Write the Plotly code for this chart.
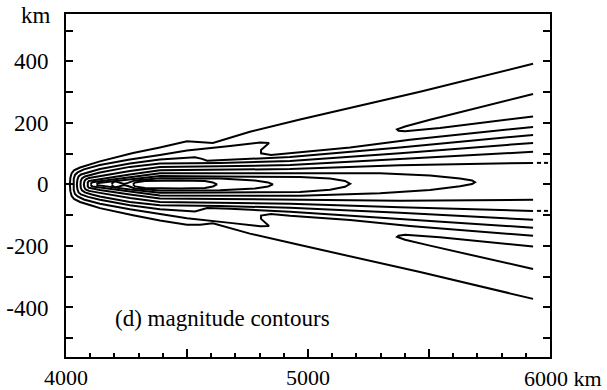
import plotly.graph_objects as go

# ---------------- data (km) ----------------
# Fan contours: upper branch (U) and lower branch (L) share the x list;
# they join at the source "nose" near x = 4000 km.
U1_x = [4016, 4018, 4023, 4033, 4058, 4112, 4140, 4277, 4388, 4500, 4554, 4607, 4760, 4967, 5463, 5930]
U1_y = [0, 21, 36, 45.5, 55, 68, 75, 102, 120, 140, 138, 135, 171, 211, 301, 392]
L1_y = [0, -22, -37, -47, -57, -70, -77, -100, -117, -131, -131, -126, -160, -197, -285, -372]

U2_x = [4031, 4032, 4037, 4048, 4074, 4140, 4264, 4388, 4500, 4678, 4802, 4839, 4806, 4806, 4847, 4926, 5174, 5421, 5930]
U2_y = [0, 18, 31, 39, 49, 63, 81, 96, 110, 125, 136, 135, 112, 101, 96, 102, 120, 145, 187]
L2_y = [0, -18, -31, -39, -49, -63, -81, -96, -110, -125, -136, -135, -112, -101, -96, -102, -116, -135, -167]

U3_x = [4045, 4047, 4052, 4062, 4091, 4140, 4264, 4388, 4533, 4562, 4583, 4678, 4926, 5380, 5930]
U3_y = [0, 15, 26, 32.5, 40.5, 50, 68, 81, 88, 83, 77, 79, 89, 120, 161]
L3_y = [0, -15, -26, -32.5, -40.5, -50, -68, -81, -88, -83, -77, -79, -89, -112, -141]

U4_x = [4060, 4061, 4066, 4078, 4107, 4140, 4264, 4388, 4636, 4926, 5380, 5930]
U4_y = [0, 11, 19.5, 26, 32.5, 39, 57, 68, 70, 76, 101, 135]
L4_y = [0, -11, -19.5, -26, -32.5, -39, -57, -68, -70, -76, -92, -115]

U5_x = [4074, 4076, 4081, 4095, 4140, 4264, 4388, 4636, 4926, 5380, 5930]
U5_y = [0, 10, 16, 21, 27.5, 44, 57, 59, 63, 83, 106]
L5_y = [0, -10, -16, -21, -27.5, -44, -57, -59, -63, -74.5, -86]

U6_x = [4089, 4090, 4095, 4112, 4140, 4264, 4388, 4636, 4926, 5380, 5930]
U6_y = [0, 6.5, 11, 14.5, 18, 32.5, 46, 47, 50, 62, 70]
L6_y = [0, -6.5, -11, -14.5, -18, -32.5, -46, -47, -50, -53, -50]

# Closed lobes along the axis
Ed_x = [4103, 4104.5, 4109.5, 4124, 4140, 4264, 4388, 4636, 4967, 5297, 5504, 5628, 5678, 5690,
        5678, 5628, 5504, 5297, 4967, 4636, 4388, 4264, 4140, 4124, 4109.5, 4104.5, 4103]
Ed_y = [0, 4, 7, 9, 10.5, 23, 36, 36.5, 37, 36, 29, 19.5, 13, 7.3,
        1.4, -6, -18.5, -29, -37, -36.5, -36, -23, -10.5, -9, -7, -4, 0]

Ec_x = [4128, 4129, 4134, 4149, 4182, 4264, 4388, 4636, 4967, 5091, 5153, 5174,
        5153, 5091, 4967, 4636, 4388, 4264, 4182, 4149, 4134, 4129, 4128]
Ec_y = [0, 2.3, 5, 6.2, 9, 16.5, 27, 26, 24.5, 19.5, 11.5, 2.1,
        -7.6, -17, -24.5, -26, -27, -16.5, -9, -6.2, -5, -2.3, 0]

Eb_x = [4190, 4192, 4202, 4219, 4240, 4256, 4285, 4388, 4636, 4781, 4835, 4855,
        4835, 4781, 4636, 4388, 4285, 4256, 4240, 4219, 4202, 4192, 4190]
Eb_y = [0, 5, 9.8, 6.5, 1.6, 5, 13, 20, 19, 13, 6.5, 0,
        -6.5, -13, -19, -20, -13, -5, -1.6, -6.5, -9.8, -5, 0]

Ea_x = [4277, 4285, 4326, 4471, 4574, 4607, 4624, 4607, 4574, 4471, 4326, 4285, 4277]
Ea_y = [0, 6.5, 11.4, 13, 11.4, 6.5, 0, -6.5, -11.4, -13, -11.4, -6.5, 0]

# Hairpin contours open to the right
H_x = [5930, 5711, 5504, 5401, 5372, 5368, 5374, 5401, 5545, 5752, 5930]
Hu_y = [294, 252, 210, 188.5, 181.5, 179, 174.5, 172.5, 183.5, 203, 221]
Hl_y = [-275, -237, -199, -180, -173, -170.5, -166.5, -163.5, -172, -187, -201.5]

# Dotted continuations at the right edge
Dot_x = [5946, 5963, None, 5975, 5992]
Dot_up_y = [70, 70, None, 70, 70]
Dot_lo_y = [-86, -86, None, -86, -86]

x_tick_vals = [4000, 4500, 5000, 5500, 6000]
x_tick_text = ["4000", "", "5000", "", ""]
y_tick_vals = [-400, -200, 0, 200, 400]
y_tick_text = ["-400", "-200", "0", "200", "400"]

FONT = "Liberation Serif"
LINE = dict(color="black", width=2)

fig = go.Figure()

def add(x, y):
    fig.add_trace(go.Scatter(x=x, y=y, mode="lines", line=LINE,
                             showlegend=False, hoverinfo="skip"))

for ux, uy, ly in [(U1_x, U1_y, L1_y), (U2_x, U2_y, L2_y), (U3_x, U3_y, L3_y),
                   (U4_x, U4_y, L4_y), (U5_x, U5_y, L5_y), (U6_x, U6_y, L6_y)]:
    add(ux[::-1] + ux[1:], uy[::-1] + ly[1:])

for lx, ly in [(Ed_x, Ed_y), (Ec_x, Ec_y), (Eb_x, Eb_y), (Ea_x, Ea_y),
               (H_x, Hu_y), (H_x, Hl_y), (Dot_x, Dot_up_y), (Dot_x, Dot_lo_y)]:
    add(lx, ly)

fig.update_layout(
    width=607, height=390,
    margin=dict(l=66, r=57, t=14, b=33, autoexpand=False),
    paper_bgcolor="white", plot_bgcolor="white",
    font=dict(family=FONT, size=23, color="black"),
    xaxis=dict(range=[4000, 6000], showgrid=False, zeroline=False, automargin=False,
               showline=True, linecolor="black", linewidth=2, mirror=True,
               tickmode="array", tickvals=x_tick_vals, ticktext=x_tick_text,
               ticks="inside", ticklen=8, tickwidth=1.5, tickcolor="black",
               tickfont=dict(family=FONT, size=22),
               minor=dict(tickmode="linear", tick0=4000, dtick=100,
                          ticks="inside", ticklen=4, tickwidth=1.5, tickcolor="black")),
    yaxis=dict(range=[-561, 554], showgrid=False, zeroline=False, automargin=False,
               showline=True, linecolor="black", linewidth=2, mirror="ticks",
               tickmode="array", tickvals=y_tick_vals, ticktext=y_tick_text,
               ticks="inside", ticklen=7, tickwidth=1.5, tickcolor="black",
               ticklabelstandoff=11,
               minor=dict(tickmode="linear", tick0=0, dtick=100,
                          ticks="inside", ticklen=7, tickwidth=1.5, tickcolor="black")),
    annotations=[
        dict(text="km", xref="paper", yref="y", x=-0.027, y=548,
             xanchor="right", yanchor="middle", showarrow=False,
             font=dict(family=FONT, size=23)),
        dict(text="6000 km", xref="paper", yref="paper", x=(603 - 66) / 484, y=-0.062,
             xanchor="right", yanchor="middle", showarrow=False, borderpad=0,
             font=dict(family=FONT, size=22)),
        dict(text="(d) magnitude contours", xref="x", yref="y", x=4194, y=-437,
             xanchor="left", yanchor="middle", showarrow=False,
             font=dict(family=FONT, size=23)),
    ],
)

fig.write_html("out.html")
